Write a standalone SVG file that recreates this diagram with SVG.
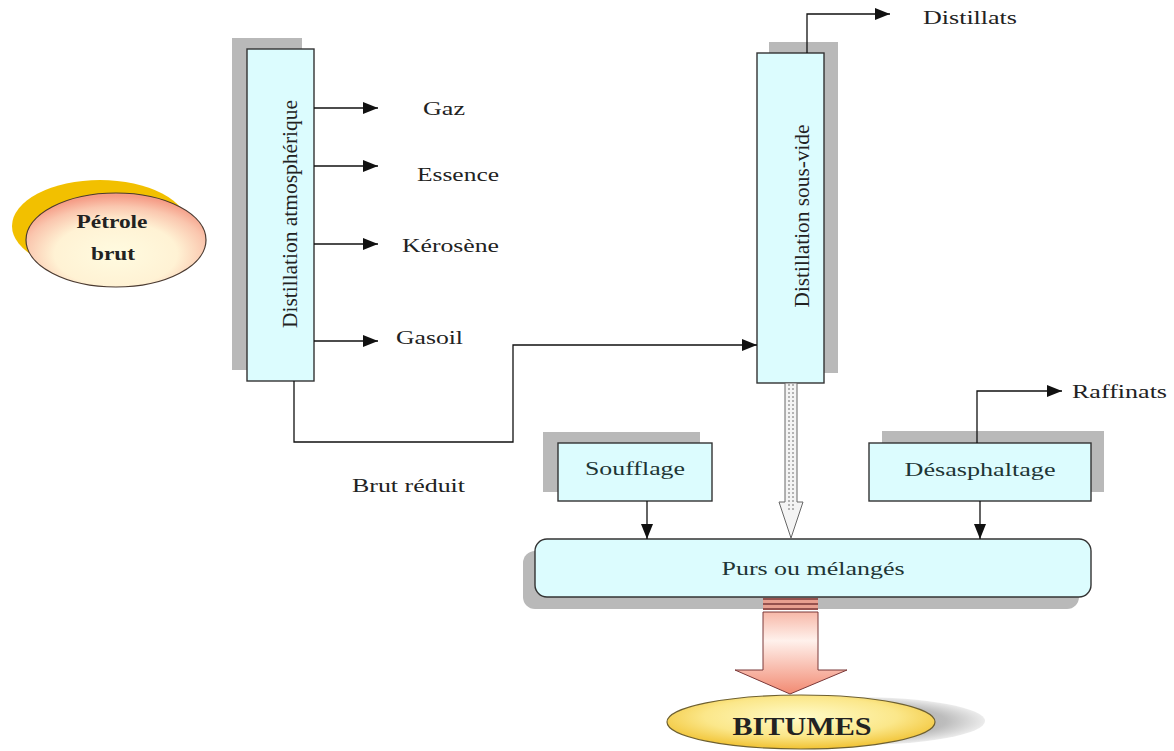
<svg xmlns="http://www.w3.org/2000/svg" width="1174" height="751" viewBox="0 0 1174 751">
<defs>
<style>
.box{fill:#dcfcfe;stroke:#333;stroke-width:1.4}
.shadow{fill:#b9b9b9}
.line{fill:none;stroke:#111;stroke-width:1.3}
.lbl{font-family:"Liberation Serif","Times New Roman",serif;font-size:18px;fill:#222}
.nodelbl{font-family:"Liberation Serif","Times New Roman",serif;font-size:18px;fill:#1e3535}
.vert{font-family:"Liberation Serif","Times New Roman",serif;font-size:22px;fill:#222}
.bold{font-family:"Liberation Serif","Times New Roman",serif;font-weight:bold;fill:#222}
</style>
<marker id="ah" viewBox="0 0 15 12" refX="15" refY="6" markerWidth="15" markerHeight="12" markerUnits="userSpaceOnUse" orient="auto">
<path d="M0,0 L15,6 L0,12 Z" fill="#111"/>
</marker>
<radialGradient id="petrole" cx="50%" cy="65%" r="62%">
<stop offset="0" stop-color="#fffbe0"/>
<stop offset="0.55" stop-color="#fff2d4"/>
<stop offset="0.82" stop-color="#fac6ae"/>
<stop offset="1" stop-color="#f59c86"/>
</radialGradient>
<radialGradient id="bitumes" cx="50%" cy="40%" r="60%">
<stop offset="0" stop-color="#fffbc8"/>
<stop offset="0.6" stop-color="#fbe78a"/>
<stop offset="1" stop-color="#f1c232"/>
</radialGradient>
<radialGradient id="bitshadow" cx="50%" cy="50%" r="50%">
<stop offset="0" stop-color="#9a9a9a"/>
<stop offset="0.7" stop-color="#bdbdbd"/>
<stop offset="1" stop-color="#ececec"/>
</radialGradient>
<linearGradient id="bigarrow" x1="0" y1="0" x2="0" y2="1">
<stop offset="0" stop-color="#f7b8a8"/>
<stop offset="0.35" stop-color="#fff1ec"/>
<stop offset="1" stop-color="#f28a72"/>
</linearGradient>
</defs>
<rect width="1174" height="751" fill="#ffffff"/>

<g id="petrole-brut">
<ellipse cx="100" cy="226" rx="88" ry="46" fill="#f2c000"/>
<ellipse cx="116" cy="240" rx="90" ry="47" fill="url(#petrole)" stroke="#4a3a30" stroke-width="1.2"/>
<text class="bold" x="112" y="228" font-size="19" text-anchor="middle" textLength="71" lengthAdjust="spacingAndGlyphs">Pétrole</text>
<text class="bold" x="113" y="260" font-size="19" text-anchor="middle" textLength="44" lengthAdjust="spacingAndGlyphs">brut</text>
</g>

<g id="distillation-atmospherique">
<rect class="shadow" x="232" y="38" width="70" height="332"/>
<rect class="box" x="247" y="49" width="67" height="332"/>
<text class="vert" transform="translate(297,214) rotate(-90)" x="0" y="0" text-anchor="middle" textLength="228" lengthAdjust="spacingAndGlyphs">Distillation atmosphérique</text>
</g>

<g id="distillation-sous-vide">
<rect class="shadow" x="769" y="42" width="69" height="331"/>
<rect class="box" x="757" y="53" width="67" height="330"/>
<text class="vert" transform="translate(809,216) rotate(-90)" x="0" y="0" text-anchor="middle" textLength="183" lengthAdjust="spacingAndGlyphs">Distillation sous-vide</text>
</g>

<g id="soufflage">
<rect class="shadow" x="543" y="432" width="157" height="60"/>
<rect class="box" x="558" y="443" width="154" height="58"/>
<text class="nodelbl" x="635" y="475" text-anchor="middle" textLength="100" lengthAdjust="spacingAndGlyphs">Soufflage</text>
</g>

<g id="desasphaltage">
<rect class="shadow" x="882" y="431" width="222" height="61"/>
<rect class="box" x="869" y="443" width="222" height="58"/>
<text class="nodelbl" x="980" y="476" text-anchor="middle" textLength="151" lengthAdjust="spacingAndGlyphs">Désasphaltage</text>
</g>

<g id="purs-ou-melanges">
<rect class="shadow" x="523" y="551" width="556" height="58" rx="12"/>
<rect class="box" x="535" y="539" width="556" height="58" rx="12"/>
<text class="nodelbl" x="813" y="575" text-anchor="middle" textLength="183" lengthAdjust="spacingAndGlyphs">Purs ou mélangés</text>
</g>

<g id="bitumes">
<ellipse cx="855" cy="721" rx="130" ry="24" fill="url(#bitshadow)"/>
<ellipse cx="801" cy="722" rx="134" ry="27" fill="url(#bitumes)" stroke="#6e6030" stroke-width="1.2"/>
<text class="bold" x="802" y="735" font-size="26" text-anchor="middle" textLength="139" lengthAdjust="spacingAndGlyphs">BITUMES</text>
</g>

<g id="labels">
<text class="lbl" x="423" y="115" textLength="42" lengthAdjust="spacingAndGlyphs">Gaz</text>
<text class="lbl" x="417" y="181" textLength="82" lengthAdjust="spacingAndGlyphs">Essence</text>
<text class="lbl" x="402" y="252" textLength="97" lengthAdjust="spacingAndGlyphs">Kérosène</text>
<text class="lbl" x="396" y="344" textLength="67" lengthAdjust="spacingAndGlyphs">Gasoil</text>
<text class="lbl" x="923" y="24" textLength="94" lengthAdjust="spacingAndGlyphs">Distillats</text>
<text class="lbl" x="1072" y="398" textLength="95" lengthAdjust="spacingAndGlyphs">Raffinats</text>
<text class="lbl" x="352" y="492" textLength="113" lengthAdjust="spacingAndGlyphs">Brut réduit</text>
</g>

<g id="connectors">
<line class="line" x1="314" y1="108" x2="378" y2="108" marker-end="url(#ah)"/>
<line class="line" x1="314" y1="166" x2="378" y2="166" marker-end="url(#ah)"/>
<line class="line" x1="314" y1="244" x2="378" y2="244" marker-end="url(#ah)"/>
<line class="line" x1="314" y1="341" x2="378" y2="341" marker-end="url(#ah)"/>
<polyline class="line" points="294,381 294,442 513,442 513,345 757,345" marker-end="url(#ah)"/>
<polyline class="line" points="807,53 807,14 890,14" marker-end="url(#ah)"/>
<polyline class="line" points="977,443 977,391 1062,391" marker-end="url(#ah)"/>
<line class="line" x1="647" y1="501" x2="647" y2="539" marker-end="url(#ah)"/>
<line class="line" x1="980" y1="501" x2="980" y2="539" marker-end="url(#ah)"/>
<g id="hatched-arrow">
<path d="M785,383 L785,502 L779,502 L791,538 L803,502 L797,502 L797,383 Z" fill="#f4f4f4" stroke="#666" stroke-width="1"/>
<line x1="789" y1="384" x2="789" y2="512" stroke="#888" stroke-width="1.2" stroke-dasharray="2 2"/>
<line x1="793" y1="384" x2="793" y2="512" stroke="#888" stroke-width="1.2" stroke-dasharray="2 2"/>
</g>
<g id="big-arrow">
<rect x="763" y="598" width="55" height="12" fill="#e8a090"/>
<line x1="763" y1="599" x2="818" y2="599" stroke="#7a3838" stroke-width="1.5"/>
<line x1="763" y1="604" x2="818" y2="604" stroke="#7a3838" stroke-width="1.5"/>
<line x1="763" y1="609" x2="818" y2="609" stroke="#7a3838" stroke-width="1.5"/>
<path d="M763,612 L818,612 L818,670 L847,670 L790,694 L735,670 L763,670 Z" fill="url(#bigarrow)" stroke="#7a3838" stroke-width="1"/>
</g>
</g>
</svg>
